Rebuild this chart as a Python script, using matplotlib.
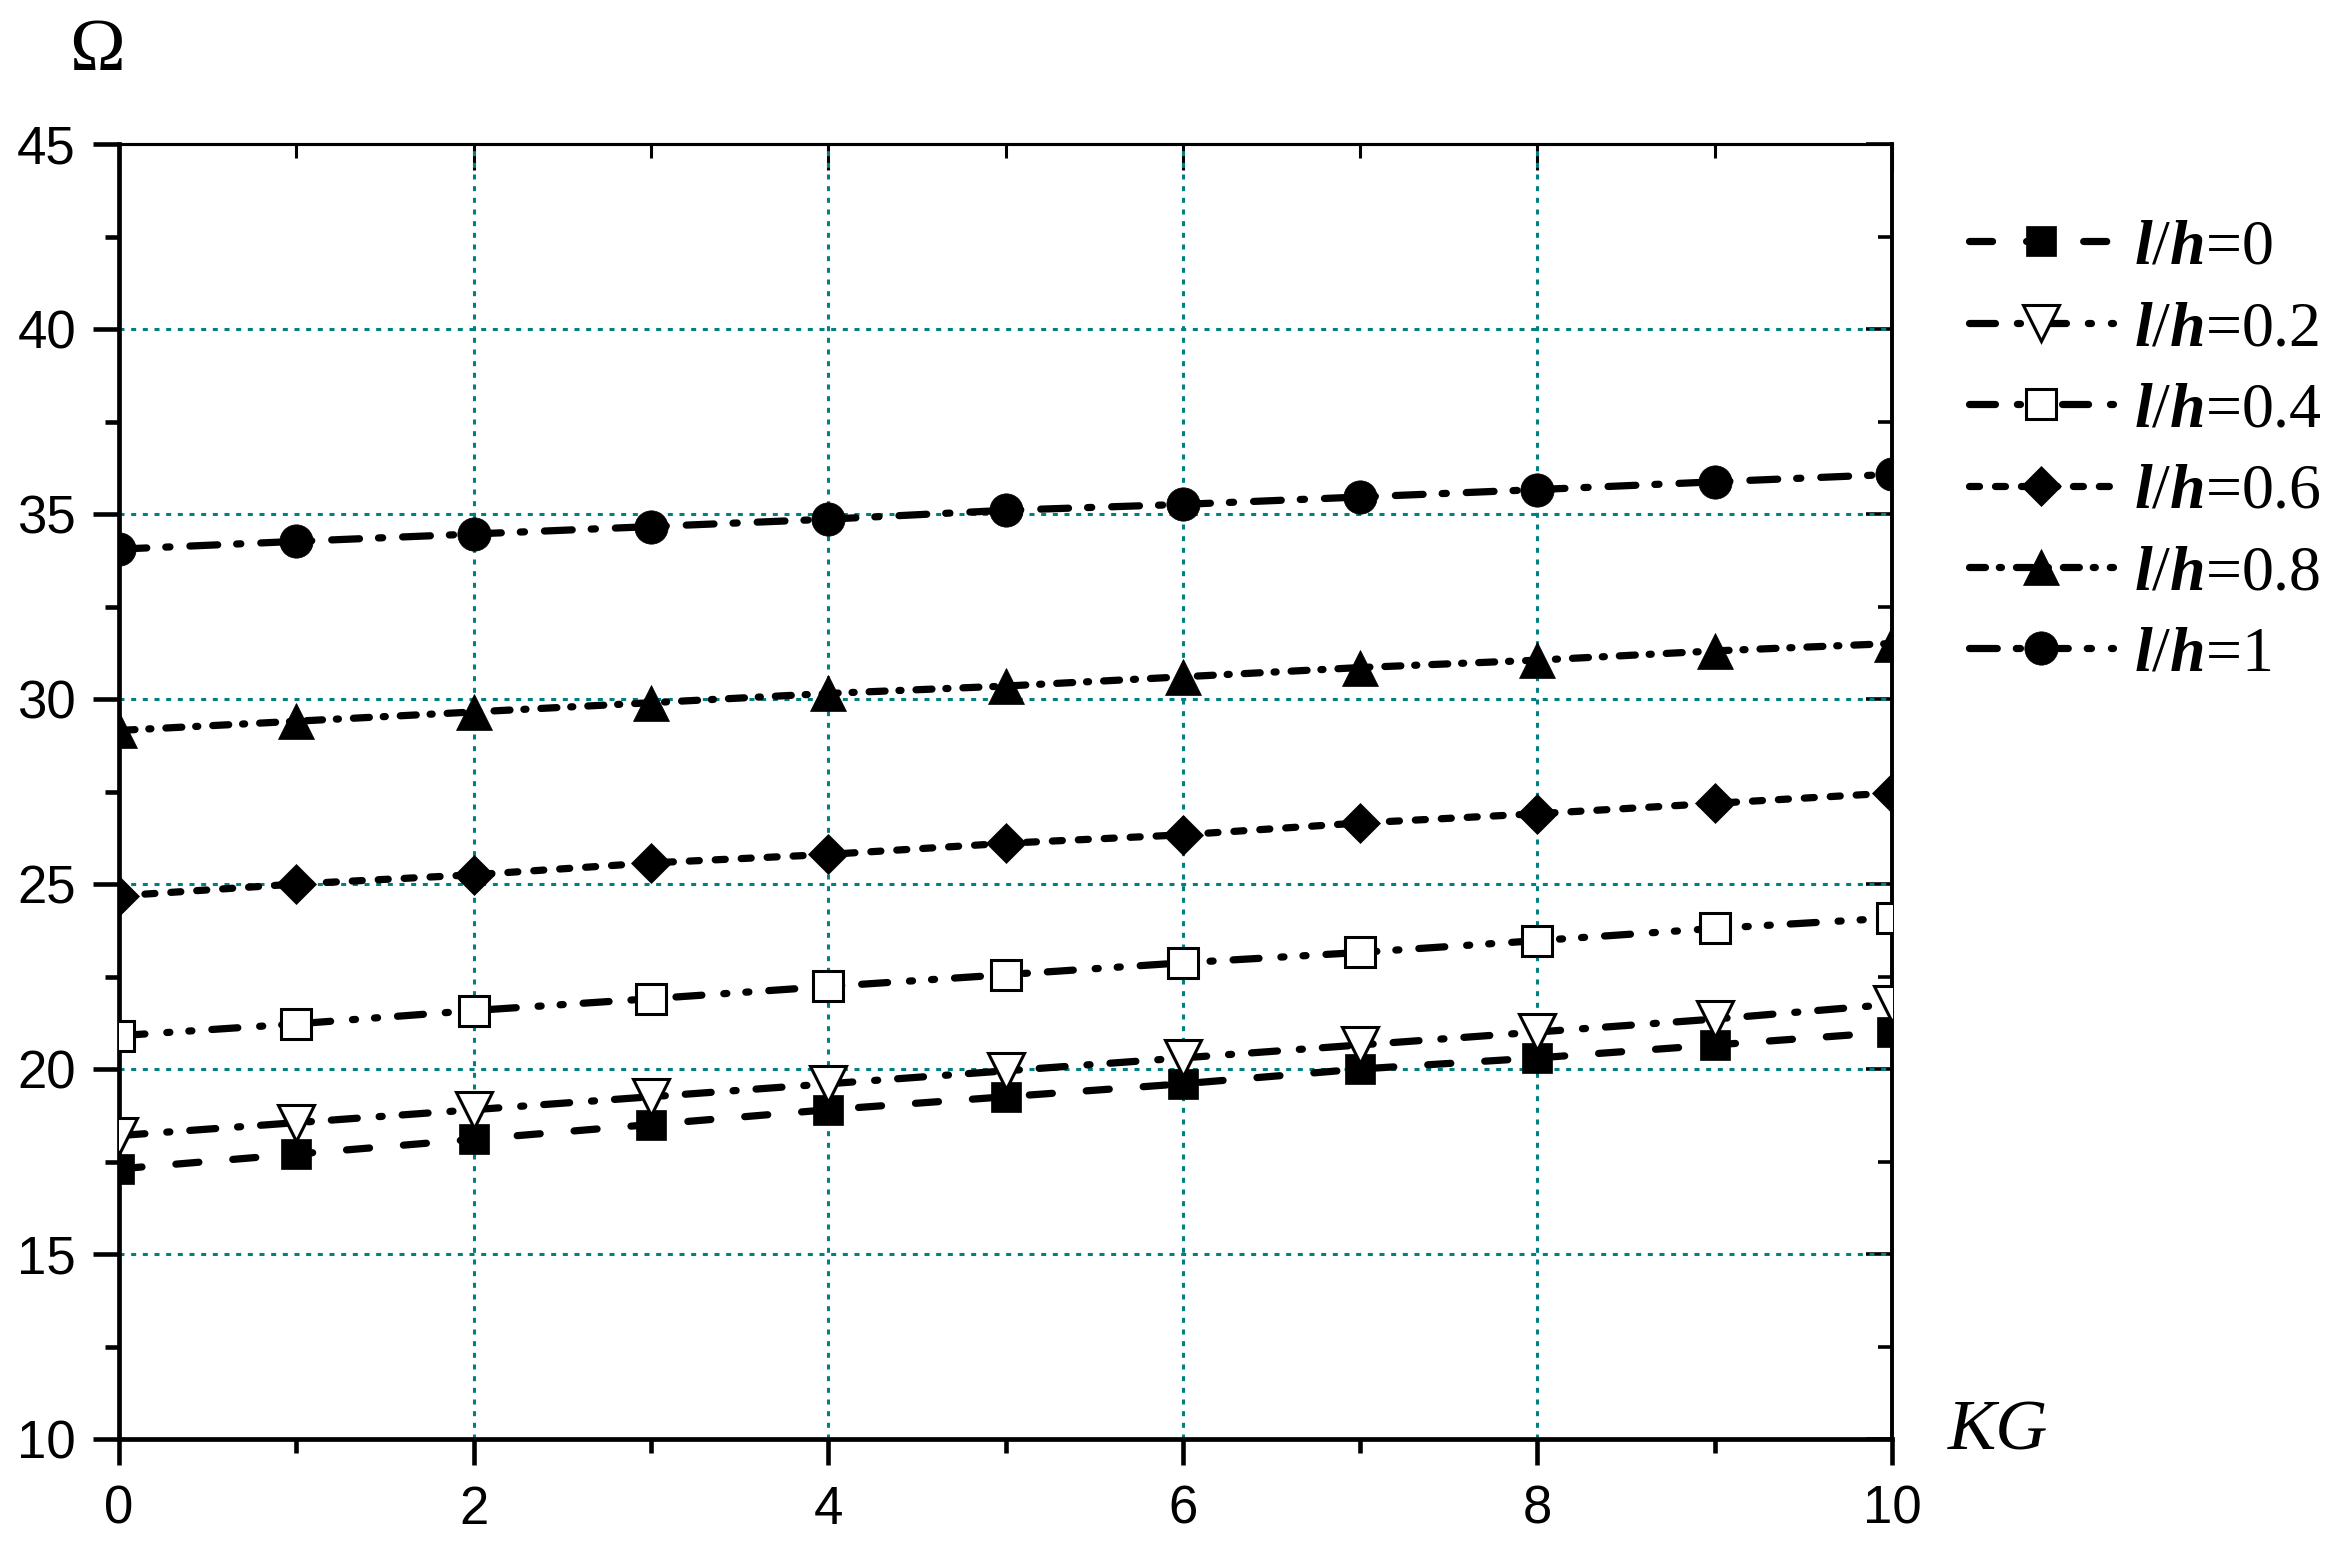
import matplotlib
matplotlib.use("Agg")
import matplotlib.pyplot as plt
from matplotlib.ticker import MultipleLocator

plt.rcParams["font.family"] = ["Liberation Sans", "DejaVu Sans"]
plt.rcParams["lines.scale_dashes"] = False
plt.rcParams["mathtext.fontset"] = "custom"
plt.rcParams["mathtext.rm"] = "Liberation Serif"
plt.rcParams["mathtext.it"] = "Liberation Serif:italic:bold"

# ── data ────────────────────────────────────────────────────────────
kg = [0, 1, 2, 3, 4, 5, 6, 7, 8, 9, 10]
om_00 = [17.3, 17.7, 18.1, 18.5, 18.9, 19.25, 19.6, 20.0, 20.3, 20.65, 21.0]
om_02 = [18.2, 18.55, 18.9, 19.25, 19.6, 19.95, 20.3, 20.65, 21.0, 21.35, 21.75]
om_04 = [20.9, 21.22, 21.58, 21.9, 22.23, 22.55, 22.87, 23.15, 23.47, 23.8, 24.08]
om_06 = [24.68, 25.0, 25.25, 25.57, 25.8, 26.1, 26.33, 26.65, 26.9, 27.18, 27.46]
om_08 = [29.15, 29.4, 29.65, 29.9, 30.15, 30.35, 30.6, 30.85, 31.05, 31.3, 31.5]
om_10 = [34.05, 34.26, 34.46, 34.66, 34.86, 35.1, 35.26, 35.46, 35.66, 35.87, 36.07]
labels = ["0", "0.2", "0.4", "0.6", "0.8", "1"]

# styles: (data, marker, size, filled, dash pattern in points)
series = [
    (om_00, "s", 21, True, (0, (16.6, 24.5))),
    (om_02, "v", 26, False, (0, (18.7, 15.8, 2.2, 14.4))),
    (om_04, "s", 21, False, (0, (18.7, 15.8, 2.2, 13.7, 2.2, 14.4))),
    (om_06, "D", 20, True, (0, (7.2, 11.5))),
    (om_08, "^", 26, True, (0, (11.5, 10.0, 1.5, 10.8))),
    (om_10, "o", 24, True, (0, (20.0, 13.7, 3.0, 14.4))),
]

W, H, DPI = 2333, 1551, 100
fig = plt.figure(figsize=(W / DPI, H / DPI), dpi=DPI)
ax = fig.add_axes([119 / W, 112 / H, (1892 - 119) / W, (1439 - 144) / H])

GRID = "#008080"
for v in [2, 4, 6, 8]:
    ax.axvline(v, color=GRID, lw=2.2, ls=(0, (3.6, 4.8)), zorder=1)
for v in [15, 20, 25, 30, 35, 40]:
    ax.axhline(v, color=GRID, lw=2.2, ls=(0, (3.6, 4.8)), zorder=1)

handles = []
for (vals, mk, ms, filled, dash), lab in zip(series, labels):
    h, = ax.plot(kg, vals, color="black", lw=5.2, linestyle=dash,
                 dash_capstyle="round", marker=mk, markersize=ms,
                 markerfacecolor="black" if filled else "white",
                 markeredgecolor="black", markeredgewidth=2.2 if not filled else 0.5,
                 label=r"$l/h$=" + lab, zorder=3)
    handles.append(h)

ax.set_xlim(0, 10)
ax.set_ylim(10, 45)
ax.xaxis.set_major_locator(MultipleLocator(2))
ax.xaxis.set_minor_locator(MultipleLocator(1))
ax.yaxis.set_major_locator(MultipleLocator(5))
ax.yaxis.set_minor_locator(MultipleLocator(2.5))
ax.tick_params(which="both", direction="out", width=3.3, labelsize=38,
               top=False, right=False)
ax.tick_params(which="major", length=19)
ax.tick_params(which="minor", length=10)
ax.tick_params(axis="y", pad=12)
ax.tick_params(axis="x", pad=14)
ax.spines["left"].set_linewidth(3.4)
ax.spines["bottom"].set_linewidth(3.4)
ax.spines["top"].set_linewidth(2.2)
ax.spines["right"].set_linewidth(2.6)

# mirrored inward ticks on top and right
top = ax.secondary_xaxis("top")
top.xaxis.set_major_locator(MultipleLocator(2))
top.xaxis.set_minor_locator(MultipleLocator(1))
top.tick_params(which="both", direction="in", width=2.2, labeltop=False)
top.tick_params(which="major", length=19)
top.tick_params(which="minor", length=10)
top.spines["top"].set_linewidth(2.2)
right = ax.secondary_yaxis("right")
right.yaxis.set_major_locator(MultipleLocator(5))
right.yaxis.set_minor_locator(MultipleLocator(2.5))
right.tick_params(which="both", direction="in", width=2.6, labelright=False)
right.tick_params(which="major", length=19)
right.tick_params(which="minor", length=10)
right.spines["right"].set_linewidth(2.6)

fig.text(97 / W, 1 - 52 / H, "Ω", fontsize=54, family="Liberation Serif",
         ha="center", va="center")
fig.text(1998 / W, 1 - 1432 / H, "KG", fontsize=52, family="Liberation Serif",
         style="italic", ha="center", va="center")

fig.legend(handles=handles, loc="upper left",
           bbox_to_anchor=(1969 / W, 1 - 219 / H), frameon=False,
           prop={"family": "Liberation Serif", "size": 46},
           handlelength=2.25, handletextpad=0.34,
           labelspacing=0.355, borderpad=0, borderaxespad=0, numpoints=1)

fig.savefig("out.png", dpi=DPI, facecolor="white")
